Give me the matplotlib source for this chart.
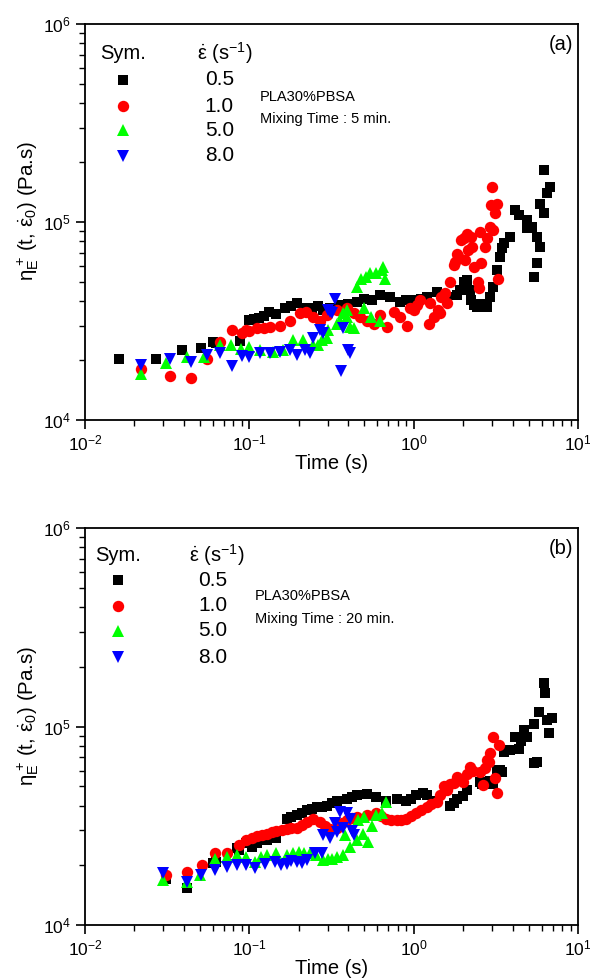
import matplotlib
matplotlib.use("Agg")
import matplotlib.pyplot as plt
from matplotlib.ticker import LogLocator, NullFormatter

plt.rcParams['font.family'] = ['Liberation Sans', 'DejaVu Sans']
plt.rcParams['mathtext.fontset'] = 'custom'
plt.rcParams['mathtext.rm'] = 'Liberation Sans'
plt.rcParams['mathtext.it'] = 'Liberation Sans:italic'
plt.rcParams['mathtext.bf'] = 'Liberation Sans:bold'

rates = ["0.5", "1.0", "5.0", "8.0"]
colors = ["#000000", "#ff0000", "#00ff00", "#0000ff"]
markers = ["s", "o", "^", "v"]
msizes = [7.4, 8.2, 8.6, 8.6]

# ---------------- Panel (a): mixing time 5 min ----------------
a_t05 = [0.016, 0.027, 0.039, 0.051, 0.060, 0.063, 0.088, 0.100, 0.107, 0.114, 0.122, 0.131,
         0.145, 0.165, 0.180, 0.195, 0.215, 0.240, 0.262, 0.282, 0.310, 0.356, 0.40, 0.451,
         0.50, 0.556, 0.624, 0.718, 0.826, 0.90, 1.0, 1.10, 1.20, 1.38, 1.59, 1.83, 1.91,
         2.01, 2.10, 2.19, 2.24, 2.31, 2.42, 2.58, 2.79, 2.92, 3.05, 3.22, 3.36, 3.43, 3.52,
         3.86, 4.14, 4.39, 4.88, 4.88, 5.23, 5.40, 5.61, 5.61, 5.88, 5.88, 6.17, 6.17, 6.5, 6.77]
a_e05 = [20300, 20300, 22500, 23000, 24900, 24400, 25000, 32000, 32300, 32600, 33500, 35200,
         34500, 36600, 37500, 38800, 37000, 36600, 37500, 36000, 37000, 38100, 38500, 39600,
         41000, 40200, 42700, 41900, 39600, 40500, 40200, 41000, 41900, 44500, 41900, 42700, 45400,
         49900, 50900, 45400, 40400, 38100, 37300, 38700, 37300, 41900, 47100, 57300, 66800, 73600, 78000,
         84300, 115000, 108000, 102000, 92900, 94600, 52900, 84300, 61800, 75000, 124000, 111000, 183000, 140000, 151000]

a_t10 = [0.022, 0.033, 0.044, 0.0555, 0.066, 0.078, 0.090, 0.096, 0.10, 0.111, 0.122, 0.134,
         0.154, 0.177, 0.204, 0.222, 0.244, 0.27, 0.295, 0.34, 0.39, 0.43, 0.47, 0.519, 0.57,
         0.624, 0.685, 0.756, 0.82, 0.908, 0.95, 1.0, 1.05, 1.09, 1.23, 1.25, 1.32, 1.40, 1.44,
         1.47, 1.55, 1.59, 1.67, 1.75, 1.78, 1.83, 1.86, 1.95, 2.01, 2.05, 2.10, 2.14, 2.24,
         2.27, 2.31, 2.47, 2.50, 2.53, 2.56, 2.72, 2.79, 2.92, 2.95, 2.99, 3.05, 3.1, 3.2, 3.25]
a_e10 = [18000, 16600, 16300, 20300, 24900, 28500, 27400, 28500, 28300, 29000, 29200, 29400,
         30000, 31500, 34700, 35300, 33300, 31500, 33900, 36000, 36600, 34700, 33000, 31500, 30600,
         33900, 29400, 35300, 33000, 30000, 36600, 36000, 38000, 40200, 30600, 38800, 33300, 36000, 34700,
         42000, 43600, 38800, 49900, 61000, 63000, 69000, 67000, 81000, 83000, 64000, 87000, 72000, 84300,
         75000, 59300, 49900, 46300, 89500, 61800, 75000, 83000, 94600, 122000, 151000, 91000, 111000, 124000, 51600]

a_t50 = [0.022, 0.031, 0.042, 0.053, 0.066, 0.077, 0.089, 0.10, 0.116, 0.14, 0.16, 0.185,
         0.213, 0.245, 0.26, 0.276, 0.295, 0.30, 0.34, 0.356, 0.37, 0.39, 0.39, 0.41, 0.43,
         0.45, 0.48, 0.50, 0.51, 0.54, 0.55, 0.59, 0.624, 0.64, 0.65, 0.665]
a_e50 = [17100, 19500, 20800, 20800, 23800, 23800, 22900, 23300, 22600, 22000, 22600, 25300,
         25300, 23800, 23800, 25300, 26000, 28500, 30600, 31500, 34700, 33300, 36000, 29400, 29000,
         47000, 51500, 36600, 52900, 55000, 33300, 55000, 31500, 57300, 59300, 51600]

a_t80 = [0.022, 0.033, 0.044, 0.055, 0.066, 0.078, 0.090, 0.10, 0.116, 0.134, 0.154, 0.177,
         0.195, 0.218, 0.234, 0.244, 0.27, 0.28, 0.30, 0.31, 0.317, 0.33, 0.363, 0.37, 0.40, 0.41]
a_e80 = [19000, 20300, 19600, 21300, 21800, 18700, 21100, 20800, 21800, 21800, 22000, 22600,
         21300, 22600, 21800, 26000, 28500, 27400, 36000, 35300, 34700, 40700, 17700, 29000, 22600, 21800]

# ---------------- Panel (b): mixing time 20 min ----------------
b_t05 = [0.031, 0.0415, 0.060, 0.0624, 0.084, 0.086, 0.096, 0.104, 0.111, 0.128, 0.146, 0.169,
         0.18, 0.195, 0.21, 0.224, 0.24, 0.257, 0.275, 0.295, 0.32, 0.34, 0.39, 0.42, 0.45,
         0.52, 0.59, 0.68, 0.786, 0.90, 0.96, 1.03, 1.13, 1.20, 1.31, 1.67, 1.75, 1.83, 2.0,
         2.10, 2.53, 2.6, 2.92, 3.05, 3.22, 3.36, 3.43, 3.52, 3.79, 3.86, 4.14, 4.26, 4.39,
         4.5, 4.67, 4.88, 5.35, 5.4, 5.6, 5.8, 6.17, 6.3, 6.5, 6.6, 6.9]
b_e05 = [17000, 15400, 20600, 20800, 24400, 24000, 25800, 24800, 25800, 26900, 27500, 34400,
         35000, 35800, 36500, 37800, 38500, 39300, 39500, 40000, 41000, 42400, 43200, 44000, 45000,
         45700, 44000, 42400, 43200, 42400, 43000, 45000, 46400, 45000, 42400, 40000, 41300, 43200, 44700,
         47800, 52500, 51600, 53400, 51600, 60500, 60500, 59300, 74800, 76100, 76100, 88700, 88600, 77500,
         85000, 95600, 88600, 103000, 65300, 66400, 118000, 165000, 147000, 108000, 93000, 110000]

b_t10 = [0.031, 0.0415, 0.0513, 0.062, 0.073, 0.086, 0.096, 0.104, 0.111, 0.12, 0.128, 0.137,
         0.146, 0.157, 0.169, 0.18, 0.195, 0.21, 0.224, 0.245, 0.27, 0.29, 0.31, 0.34, 0.365,
         0.39, 0.42, 0.45, 0.52, 0.59, 0.63, 0.68, 0.73, 0.786, 0.84, 0.90, 0.96, 1.03, 1.1,
         1.2, 1.28, 1.38, 1.45, 1.52, 1.6, 1.67, 1.75, 1.83, 1.9, 2.0, 2.1, 2.19, 2.3, 2.53,
         2.65, 2.7, 2.79, 2.86, 2.92, 3.05, 3.14, 3.22, 3.32]
b_e10 = [17800, 18500, 20100, 23000, 23000, 25200, 26900, 27500, 28000, 28400, 28800, 29300,
         29900, 30200, 30600, 30800, 31000, 32000, 33000, 34400, 33000, 31500, 30600, 31000, 32500,
         33800, 34500, 35000, 35800, 36700, 35500, 34400, 34000, 33800, 34000, 34400, 35500, 36700, 38000,
         39400, 40500, 41800, 45000, 49900, 48000, 51500, 52000, 55700, 54000, 52500, 58000, 62800, 60000, 59300,
         51000, 62000, 68000, 66500, 73600, 88700, 54900, 46400, 81000]

b_t50 = [0.030, 0.0415, 0.050, 0.062, 0.073, 0.084, 0.096, 0.108, 0.118, 0.128, 0.146, 0.169,
         0.185, 0.2, 0.215, 0.233, 0.255, 0.28, 0.30, 0.32, 0.34, 0.37, 0.38, 0.41, 0.45,
         0.46, 0.49, 0.5, 0.53, 0.56, 0.59, 0.64, 0.68]
b_e50 = [16800, 16400, 17900, 21600, 22000, 22500, 22000, 20800, 22000, 22500, 23100, 22500,
         23000, 23400, 23000, 23100, 22500, 21200, 21500, 21600, 22000, 22500, 28500, 24800, 26900,
         33800, 28800, 35000, 26300, 31700, 35800, 36700, 41800]

b_t80 = [0.030, 0.0415, 0.051, 0.062, 0.073, 0.084, 0.096, 0.108, 0.125, 0.143, 0.155, 0.169,
         0.18, 0.195, 0.21, 0.224, 0.25, 0.276, 0.28, 0.31, 0.33, 0.34, 0.356, 0.37, 0.39,
         0.41, 0.42, 0.43]
b_e80 = [18200, 16400, 17800, 18900, 19600, 20000, 20000, 19300, 20400, 20800, 20000, 20400,
         21000, 20800, 20500, 21200, 23100, 23100, 28500, 27400, 32600, 29400, 37100, 31000, 36700,
         34400, 29900, 28500]

panels = [
    dict(series=[(a_t05, a_e05), (a_t10, a_e10), (a_t50, a_e50), (a_t80, a_e80)],
         tag="(a)", mix="Mixing Time : 5 min.", rect=[0.144, 0.5714, 0.836, 0.404],
         sym_x=0.030, hdr_x=0.227, val_x=0.243, mk_x=0.077,
         rows_y=[0.859, 0.793, 0.732, 0.667], hdr_y=0.927,
         pla_x=0.355, pla_y=0.816, mix_y=0.760),
    dict(series=[(b_t05, b_e05), (b_t10, b_e10), (b_t50, b_e50), (b_t80, b_e80)],
         tag="(b)", mix="Mixing Time : 20 min.", rect=[0.144, 0.0561, 0.836, 0.405],
         sym_x=0.020, hdr_x=0.210, val_x=0.229, mk_x=0.066,
         rows_y=[0.869, 0.804, 0.741, 0.675], hdr_y=0.932,
         pla_x=0.345, pla_y=0.829, mix_y=0.771),
]

fig = plt.figure(figsize=(5.9, 9.8), dpi=100)

for p in panels:
    ax = fig.add_axes(p["rect"])
    for (t, e), c, m, ms in zip(p["series"], colors, markers, msizes):
        ax.plot(t, e, linestyle="none", marker=m, color=c, ms=ms, mew=0)
    ax.set_xscale("log")
    ax.set_yscale("log")
    ax.set_xlim(1e-2, 1e1)
    ax.set_ylim(1e4, 1e6)
    ax.xaxis.set_major_locator(LogLocator(base=10, numticks=10))
    ax.yaxis.set_major_locator(LogLocator(base=10, numticks=10))
    ax.xaxis.set_minor_locator(LogLocator(base=10, subs=range(2, 10), numticks=20))
    ax.yaxis.set_minor_locator(LogLocator(base=10, subs=range(2, 10), numticks=20))
    ax.xaxis.set_minor_formatter(NullFormatter())
    ax.yaxis.set_minor_formatter(NullFormatter())
    ax.tick_params(which="major", direction="out", length=6.5, width=1.2, labelsize=12.5,
                   top=False, right=False, colors="black")
    ax.tick_params(which="minor", direction="out", length=4.2, width=1.0, top=False, right=False)
    for s in ax.spines.values():
        s.set_linewidth(1.3)
    ax.set_xlabel("Time (s)", fontsize=14.5, labelpad=0)
    ax.set_ylabel(r"$\mathrm{\eta}_{\rm E}^{\,+}\,(\mathrm{t},\,\dot{\mathrm{\varepsilon}}_0)$ (Pa.s)",
                  fontsize=14.8, labelpad=2)
    ax.yaxis.set_label_coords(-0.09, 0.528)

    # in-plot legend table
    ax.text(p["sym_x"], p["hdr_y"], "Sym.", transform=ax.transAxes, fontsize=14.5,
            ha="left", va="center")
    ax.text(p["hdr_x"], p["hdr_y"], r"$\dot{\mathrm{\varepsilon}}$ (s$^{\mathrm{-1}}$)", transform=ax.transAxes,
            fontsize=14.5, ha="left", va="center")
    for r, c, m, ms, yy in zip(rates, colors, markers, msizes, p["rows_y"]):
        ax.plot([p["mk_x"]], [yy], transform=ax.transAxes, linestyle="none", marker=m,
                color=c, ms=ms, mew=0, clip_on=False)
        ax.text(p["val_x"], yy, r, transform=ax.transAxes, fontsize=15, ha="left", va="center")
    ax.text(p["pla_x"], p["pla_y"], "PLA30%PBSA", transform=ax.transAxes, fontsize=10.5,
            ha="left", va="center")
    ax.text(p["pla_x"], p["mix_y"], p["mix"], transform=ax.transAxes, fontsize=10.5,
            ha="left", va="center")
    ax.text(0.990, 0.949, p["tag"], transform=ax.transAxes, fontsize=14.5, ha="right", va="center")

fig.savefig("out.png", dpi=100)
